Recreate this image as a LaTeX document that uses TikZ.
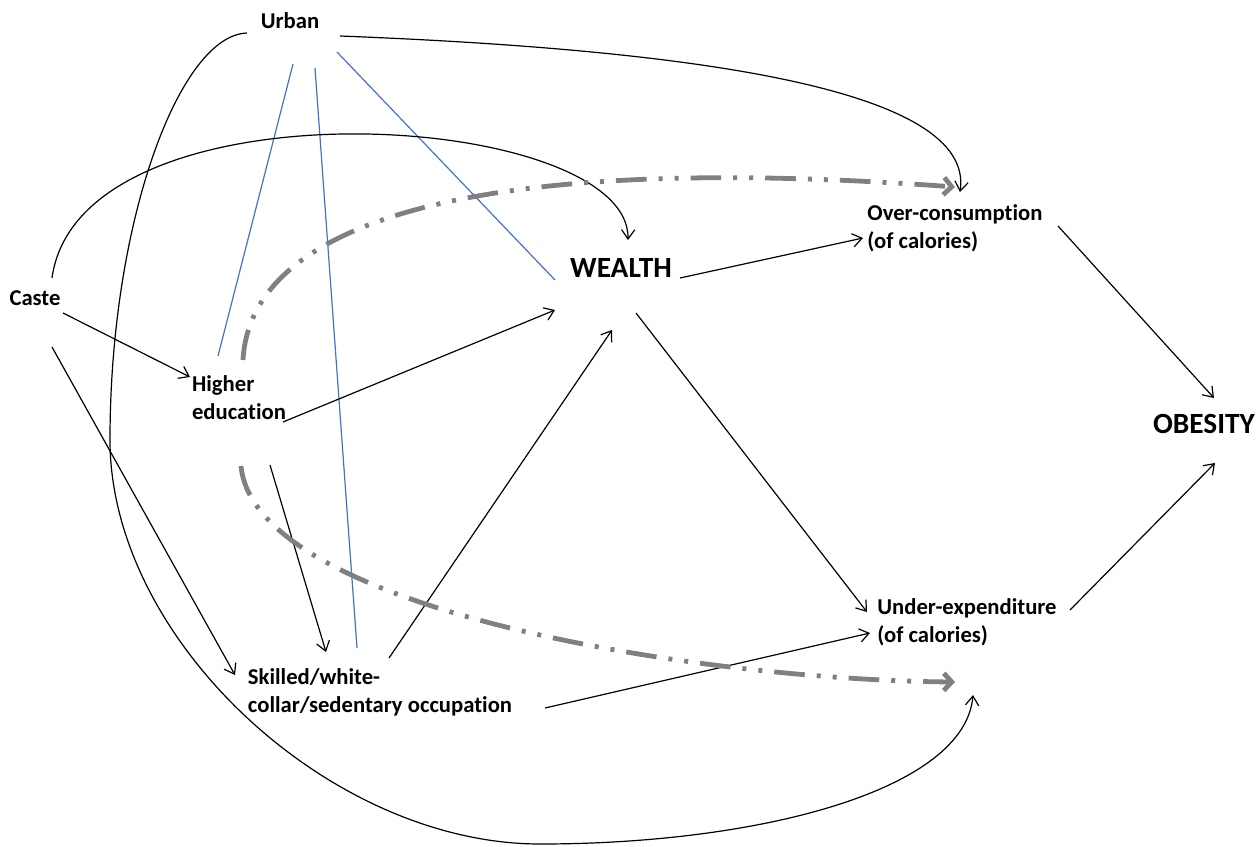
\documentclass[tikz,border=0pt]{standalone}
\usepackage{fontspec}
\setmainfont{Carlito}[Ligatures=NoCommon]
\usetikzlibrary{arrows.meta,calc}

\definecolor{urbanblue}{RGB}{68,114,196}
\definecolor{pathgray}{RGB}{128,128,128}

\tikzset{every picture/.style={line width=0.75pt}}
\tikzset{
  factor/.style={font=\bfseries\fontsize{17}{21}\selectfont, align=left, inner sep=0pt},
  outcome/.style={font=\bfseries\fontsize{22}{26}\selectfont, inner sep=0pt},
  cause/.style={draw=black, line width=0.9pt, -{Straight Barb[length=7pt,width=10pt]}},
  link/.style={draw=urbanblue, line width=0.9pt},
  pathway/.style={draw=pathgray, line width=3.6pt, dash pattern=on 23pt off 9pt on 3pt off 9pt on 3pt off 9pt, -{Straight Barb[length=6pt,width=13pt]}},
}

\begin{document}
\begin{tikzpicture}[x=0.75pt,y=0.75pt,yscale=-1,xscale=1]
  \useasboundingbox (0,0) rectangle (1258,847);

  % factors
  \node[factor] (urban) at (290,21) {Urban};
  \node[factor] (caste) at (35,298) {Caste};
  \node[factor] (hied) at (239,398) {Higher\\education};
  \node[outcome] (wealth) at (621,268) {WEALTH};
  \node[factor] (over) at (955,228) {Over-consumption\\(of calories)};
  \node[outcome] (obesity) at (1204,424) {OBESITY};
  \node[factor] (under) at (967,622) {Under-expenditure\\(of calories)};
  \node[factor] (skilled) at (380,692) {Skilled/white-\\collar/sedentary occupation};

  % urban links
  \draw[link] ($(urban)+(3,43)$) -- ($(hied)+(-21,-42)$);
  \draw[link] ($(urban)+(25,47)$) -- ($(skilled)+(-23,-44)$);
  \draw[link] ($(urban)+(47,31)$) -- ($(wealth)+(-66,12)$);

  % straight arrows
  \draw[cause] ($(caste)+(28,15)$) -- ($(hied)+(-49,-21)$);
  \draw[cause] ($(caste)+(17,49)$) -- ($(skilled)+(-145,-17)$);
  \draw[cause] ($(hied)+(44,24)$) -- ($(wealth)+(-66,42)$);
  \draw[cause] ($(hied)+(31,67)$) -- ($(skilled)+(-54,-40)$);
  \draw[cause] ($(skilled)+(9,-34)$) -- ($(wealth)+(-9,62)$);
  \draw[cause] ($(skilled)+(165,16)$) -- ($(under)+(-97,11)$);
  \draw[cause] ($(wealth)+(59,10)$) -- ($(over)+(-92,10)$);
  \draw[cause] ($(wealth)+(15,45)$) -- ($(under)+(-100,-10)$);
  \draw[cause] ($(over)+(103,-2)$) -- ($(obesity)+(10,-26)$);
  \draw[cause] ($(under)+(103,-12)$) -- ($(obesity)+(11,39)$);

  % curved arrows
  \draw[cause] ($(urban)+(50,15)$) .. controls +(360,14) and +(15,-102) .. ($(over)+(5,-36)$);
  \draw[cause] ($(caste)+(17,-20)$) .. controls +(28,-203) and +(2,-130) .. ($(wealth)+(7,-28)$);
  \draw[cause] ($(urban)+(-43,12)$) .. controls +(-67,2) and +(0,-220) .. (110,440)
    .. controls +(0,200) and +(-210,0) .. (540,844)
    .. controls +(220,0) and +(-8,95) .. ($(under)+(6,73)$);

  % pathways
  \draw[pathway] ($(hied)+(4,-38)$) .. controls +(7,-130) and +(-505,-37) .. ($(over)+(0,-41)$);
  \draw[pathway] ($(hied)+(2,68)$) .. controls +(14,144) and +(-255,-2) .. ($(under)+(-12,60)$);
\end{tikzpicture}
\end{document}
